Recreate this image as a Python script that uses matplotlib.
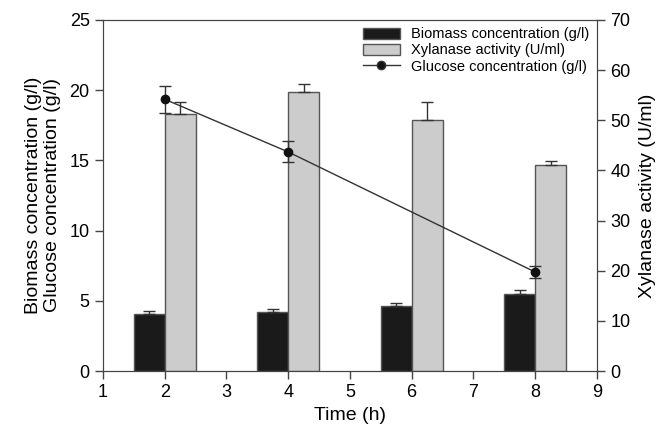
import matplotlib
matplotlib.use("Agg")
import matplotlib.pyplot as plt
from matplotlib.lines import Line2D

plt.rcParams['font.family'] = ['Liberation Sans', 'DejaVu Sans']

# Data
time_h = [2, 4, 6, 8]
biomass = [4.05, 4.2, 4.65, 5.5]
biomass_err = [0.2, 0.22, 0.2, 0.25]
xylanase = [51.3, 55.7, 50.0, 41.0]
xylanase_err = [2.3, 1.6, 3.7, 0.9]
glucose_time = [2, 4, 8]
glucose = [19.35, 15.6, 7.05]
glucose_err = [0.95, 0.75, 0.4]

bar_w = 0.5
edge = '#555555'
err_style = dict(ecolor='#333333', elinewidth=1, capsize=4, capthick=1)

fig = plt.figure(figsize=(6.64, 4.32), dpi=100)
ax1 = fig.add_axes([0.155, 0.141, 0.744, 0.813])
ax2 = ax1.twinx()

b1 = ax1.bar([t - bar_w / 2 for t in time_h], biomass, width=bar_w,
             color='#1a1a1a', edgecolor=edge, linewidth=1.0,
             yerr=[[0] * 4, biomass_err], error_kw=err_style, zorder=2)
b2 = ax2.bar([t + bar_w / 2 for t in time_h], xylanase, width=bar_w,
             color='#cccccc', edgecolor=edge, linewidth=1.0,
             yerr=[[0] * 4, xylanase_err], error_kw=err_style, zorder=2)

# glucose line on a hidden copy of the left scale so it sits above the bars
ax3 = ax1.twinx()
ax3.set_ylim(0, 25)
ax3.axis('off')
ax3.errorbar(glucose_time, glucose, yerr=glucose_err, color='#333333', marker='o',
             markersize=6, markerfacecolor='#111111', markeredgecolor='#111111',
             linewidth=1, elinewidth=1, capsize=4, capthick=1)

ax1.set_xlim(1, 9)
ax1.set_ylim(0, 25)
ax2.set_ylim(0, 70)
ax1.set_xticks(range(1, 10))
ax1.set_yticks(range(0, 26, 5))
ax2.set_yticks(range(0, 71, 10))

for ax in (ax1, ax2):
    ax.tick_params(direction='out', length=6, width=1, color='#444444', labelsize=13)
    for s in ax.spines.values():
        s.set_color('#444444')

ax1.set_xlabel('Time (h)', fontsize=14)
ax1.set_ylabel('Biomass concentration (g/l)\nGlucose concentration (g/l)',
               fontsize=14, linespacing=1.15, labelpad=6)
ax2.set_ylabel('Xylanase activity (U/ml)', fontsize=14, labelpad=6)

gl_handle = Line2D([], [], color='#333333', marker='o', markersize=6,
                   markerfacecolor='#111111', linewidth=1)
leg = ax1.legend([b1, b2, gl_handle],
                 ['Biomass concentration (g/l)', 'Xylanase activity (U/ml)', 'Glucose concentration (g/l)'],
                 loc='upper right', frameon=False, fontsize=10.5, handlelength=2.5,
                 handleheight=0.8, labelspacing=0.15, borderaxespad=0.1)
leg.set_zorder(10)

fig.savefig('out.png', dpi=100)
